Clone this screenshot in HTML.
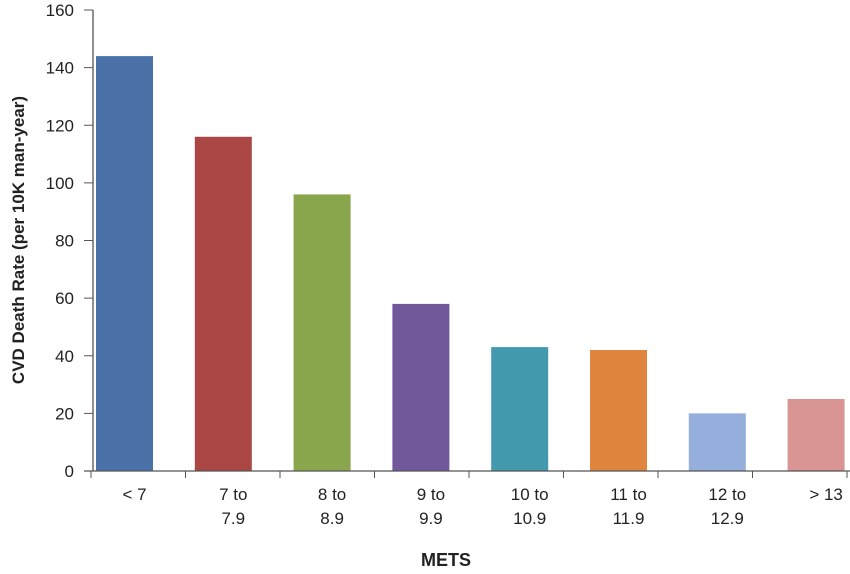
<!DOCTYPE html>
<html><head><meta charset="utf-8"><style>
body{margin:0;background:#fff;}
svg text{font-family:"Liberation Sans",sans-serif;fill:#222;}
</style></head><body>
<svg id="c" width="850" height="569"></svg>
<script>
const categories=["< 7","7 to|7.9","8 to|8.9","9 to|9.9","10 to|10.9","11 to|11.9","12 to|12.9","> 13"];
const values=[144,116,96,58,43,42,20,25];
const colors=["#4a72a8","#aa4644","#8aa64c","#71589a","#4399ad","#e0853d","#96aedb","#d99593"];
const yTicks=[0,20,40,60,80,100,120,140,160];
const NS="http://www.w3.org/2000/svg";
const svg=document.getElementById('c');
const y0=471,ppu=461/160;
const yS=v=>y0-v*ppu;
const xC=i=>124.5+i*98.8;
function mk(t,a,p){const e=document.createElementNS(NS,t);for(const k in a)e.setAttribute(k,a[k]);(p||svg).appendChild(e);return e;}
yTicks.forEach(v=>{
  const t=mk('text',{x:74,y:yS(v)+6,'text-anchor':'end','font-size':17});t.textContent=v;
  
  
  const l=mk('line',{x1:84,x2:93,y1:yS(v),y2:yS(v),stroke:'#555','stroke-width':1});
  
  
});
values.forEach((v,i)=>{
  const r=mk('rect',{x:xC(i)-28.5,y:yS(v),width:57,height:v*ppu,fill:colors[i]});
  
  
  const parts=categories[i].split('|');
  parts.forEach((p,j)=>{
    const t=mk('text',{x:xC(i)+10,y:500+j*24,'text-anchor':'middle','font-size':17});t.textContent=p;
    
    
  });
});
for(let i=0;i<9;i++){
  const l=mk('line',{x1:91+94.5*i,x2:91+94.5*i,y1:471,y2:478,stroke:'#555'});
  
  
}
const ax=mk('line',{x1:93,x2:93,y1:10,y2:471,stroke:'#555','stroke-width':1.3});


const bx=mk('line',{x1:84,x2:850,y1:471,y2:471,stroke:'#555','stroke-width':1.3});


const xt=mk('text',{x:446,y:566,'text-anchor':'middle','font-size':18,'font-weight':'bold'});xt.textContent='METS';


const yt=mk('text',{x:0,y:0,'text-anchor':'middle','font-size':17,'font-weight':'bold',transform:'translate(24,240) rotate(-90)'});yt.textContent='CVD Death Rate (per 10K man-year)';


</script>
</body></html>
